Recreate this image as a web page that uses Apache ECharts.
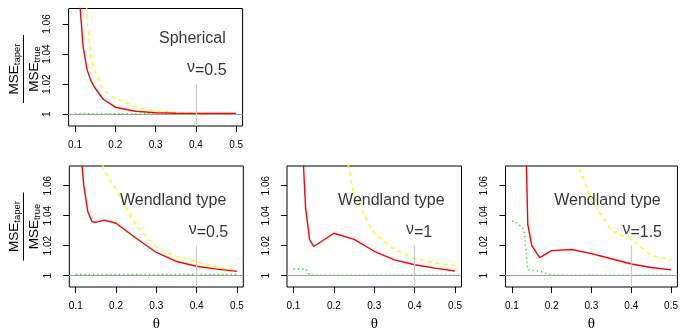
<!DOCTYPE html>
<html><head><meta charset="utf-8">
<script src="https://cdn.jsdelivr.net/npm/echarts@6/dist/echarts.min.js"></script>
<style>html,body{margin:0;padding:0;background:#fff}#c{width:681px;height:333px}</style>
</head><body><div id="c"></div>
<script>
// ---- data ----
const theta = [0.1, 0.11, 0.12, 0.13, 0.14, 0.15, 0.17, 0.2, 0.25, 0.3, 0.35, 0.4, 0.45, 0.5];
const xTicks = [0.1, 0.2, 0.3, 0.4, 0.5];
const yTicks = [1, 1.02, 1.04, 1.06];
const panelTitles = ['Spherical', 'Wendland type', 'Wendland type', 'Wendland type'];
const nuValues = ['0.5', '0.5', '1', '1.5'];

// Spherical, nu = 0.5
const red1    = [1.15, 1.08, 1.045, 1.0295, 1.022, 1.0173, 1.010, 1.0047, 1.002, 1.001, 1.0007, 1.0006, 1.0005, 1.0005];
const yellow1 = [1.30, 1.22, 1.13, 1.062, 1.036, 1.028, 1.016, 1.0105, 1.005, 1.0022, 1.0012, 1.0008, 1.0006, 1.0005];
const green1  = [1.0004, 1.0004, 1.0004, 1.0003, 1.0003, 1.0003, 1.0003, 1.0003, 1.0003, 1.0003, 1.0003, 1.0003, 1.0003, 1.0003];
// Wendland, nu = 0.5
const red2    = [1.15, 1.09, 1.060, 1.0427, 1.0361, 1.0355, 1.037, 1.035, 1.025, 1.0155, 1.0095, 1.0063, 1.0044, 1.0029];
const yellow2 = [1.35, 1.28, 1.22, 1.17, 1.13, 1.095, 1.070, 1.0575, 1.033, 1.019, 1.0128, 1.0093, 1.006, 1.0033];
const green2  = [1.0008, 1.0008, 1.0008, 1.0008, 1.0008, 1.0008, 1.0008, 1.0008, 1.0008, 1.0008, 1.0008, 1.0008, 1.0008, 1.0008];
// Wendland, nu = 1
const red3    = [1.30, 1.20, 1.10, 1.045, 1.024, 1.0195, 1.023, 1.0283, 1.0242, 1.0163, 1.0106, 1.0073, 1.0051, 1.0032];
const yellow3 = [1.60, 1.50, 1.42, 1.35, 1.30, 1.26, 1.19, 1.125, 1.053, 1.028, 1.0175, 1.0115, 1.0085, 1.0068];
const green3  = [1.0045, 1.0045, 1.0045, 1.0045, 1.0005, 1.0003, 1.0003, 1.0003, 1.0003, 1.0003, 1.0003, 1.0003, 1.0003, 1.0003];
// Wendland, nu = 1.5
const red4    = [1.50, 1.40, 1.28, 1.15, 1.034, 1.020, 1.012, 1.0167, 1.0175, 1.0147, 1.0113, 1.0078, 1.0055, 1.0039];
const yellow4 = [1.90, 1.75, 1.62, 1.50, 1.42, 1.35, 1.25, 1.16, 1.085, 1.050, 1.030, 1.024, 1.0135, 1.0105];
const green4  = [1.0365, 1.0355, 1.0335, 1.031, 1.004, 1.0035, 1.003, 1.0005, 1.0003, 1.0003, 1.0003, 1.0003, 1.0003, 1.0003];

const reds = [red1, red2, red3, red4];
const yellows = [yellow1, yellow2, yellow3, yellow4];
const greens = [green1, green2, green3, green4];

// ---- layout ----
const F = '"Liberation Sans", Arial, Helvetica, sans-serif';
const TXT = '#000';
const panels = [
  { left: 68.6, top: 8.5, width: 174, height: 117.5, ymin: 0.9922, ymax: 1.0703, nuX: 0.427, xlab: false, ylab: true, fracY: 69 },
  { left: 69.3, top: 166, width: 174, height: 121.3, ymin: 0.9925, ymax: 1.0731, nuX: 0.4295, xlab: true, ylab: true, fracY: 226.5 },
  { left: 287, top: 166, width: 174.5, height: 121.3, ymin: 0.9925, ymax: 1.0731, nuX: 0.411, xlab: true, ylab: false },
  { left: 505.5, top: 166, width: 174.5, height: 121.3, ymin: 0.9925, ymax: 1.0731, nuX: 0.4275, xlab: true, ylab: false }
];

const grid = [], xAxis = [], yAxis = [], series = [], graphic = [];

panels.forEach((p, i) => {
  grid.push({ left: p.left, top: p.top, width: p.width, height: p.height, show: true,
    borderColor: '#000', borderWidth: 1, backgroundColor: 'rgba(0,0,0,0)' });
  xAxis.push({
    type: 'value', gridIndex: i, min: 0.084, max: 0.516,
    axisLine: { show: false },
    axisTick: { show: true, length: 6, customValues: xTicks, lineStyle: { color: '#000', width: 1 } },
    axisLabel: { customValues: xTicks, fontSize: 10, color: TXT, margin: 14, fontFamily: F,
      formatter: v => v.toFixed(1) },
    splitLine: { show: false },
    name: p.xlab ? 'θ' : '', nameLocation: 'middle', nameGap: 30,
    nameTextStyle: { fontFamily: '"Liberation Serif", "DejaVu Serif", serif', fontSize: 15, color: TXT }
  });
  yAxis.push({
    type: 'value', gridIndex: i, min: p.ymin, max: p.ymax,
    axisLine: { show: false },
    axisTick: { show: true, length: 6, customValues: yTicks, lineStyle: { color: '#000', width: 1 } },
    axisLabel: { customValues: yTicks, fontSize: 10, color: TXT, margin: 16, rotate: 90, fontFamily: F,
      formatter: v => (Math.abs(v - 1) < 1e-9 ? '1' : v.toFixed(2)) },
    splitLine: { show: false }
  });
  // reference lines
  series.push({
    type: 'line', xAxisIndex: i, yAxisIndex: i, data: [], silent: true, z: 1,
    markLine: {
      silent: true, symbol: 'none', animation: false, label: { show: false },
      data: [
        { yAxis: 1, lineStyle: { color: '#a0a0a0', width: 1.2, type: 'solid' } },
        [ { coord: [0.4, p.ymin], lineStyle: { color: '#cccccc', width: 1.2, type: 'solid' } }, { coord: [0.4, 1.02] } ]
      ]
    }
  });
  const mk = arr => theta.map((t, j) => [t, arr[j]]);
  series.push({ type: 'line', xAxisIndex: i, yAxisIndex: i, data: mk(greens[i]), showSymbol: false, z: 2,
    lineStyle: { color: '#22ee22', width: 1.4, type: [1.3, 3] }, clip: true, silent: true });
  series.push({ type: 'line', xAxisIndex: i, yAxisIndex: i, data: mk(yellows[i]), showSymbol: false, z: 3,
    lineStyle: { color: '#ffff00', width: 1.4, type: [4, 4] }, clip: true, silent: true });
  series.push({ type: 'line', xAxisIndex: i, yAxisIndex: i, data: mk(reds[i]), showSymbol: false, z: 4,
    lineStyle: { color: '#ff0000', width: 1.4 }, clip: true, silent: true });
  // annotations
  series.push({ type: 'scatter', xAxisIndex: i, yAxisIndex: i, symbolSize: 0, silent: true, z: 5,
    data: [[0.474, 1.0502]],
    label: { show: true, position: 'inside', align: 'right', verticalAlign: 'middle',
      formatter: panelTitles[i], fontSize: 16, color: TXT, fontFamily: F } });
  series.push({ type: 'scatter', xAxisIndex: i, yAxisIndex: i, symbolSize: 0, silent: true, z: 5,
    data: [[p.nuX, 1.029]],
    label: { show: true, position: 'inside', align: 'center', verticalAlign: 'middle',
      formatter: '{nu|ν}{t|=' + nuValues[i] + '}',
      rich: { nu: { fontSize: 16, color: TXT, fontFamily: F, padding: [0, 0, 6, 0] },
              t: { fontSize: 16, color: TXT, fontFamily: F } } } });
  if (p.ylab) {
    const rich = { m: { fontSize: 13.5, fill: TXT, fontFamily: F },
                   s: { fontSize: 9.5, fill: TXT, fontFamily: F, padding: [7, 0, 0, 0] } };
    graphic.push({ type: 'group', x: 23.5, y: p.fracY, rotation: Math.PI / 2, silent: true, children: [
      { type: 'line', shape: { x1: -34, y1: 0, x2: 34, y2: 0 }, style: { stroke: '#000', lineWidth: 1 } },
      { type: 'text', x: 0, y: -1, style: { text: '{m|MSE}{s|taper}', align: 'center', verticalAlign: 'bottom', fill: TXT, rich } },
      { type: 'text', x: 0, y: 2, style: { text: '{m|MSE}{s|true}', align: 'center', verticalAlign: 'top', fill: TXT, rich } }
    ] });
  }
});

const chart = echarts.init(document.getElementById('c'), null, { renderer: 'canvas' });
chart.setOption({ animation: false, backgroundColor: '#fff', grid, xAxis, yAxis, series, graphic });
</script>
</body></html>
